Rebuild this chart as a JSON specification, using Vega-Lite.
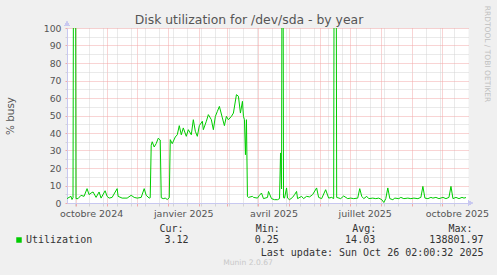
{
  "$schema": "https://vega.github.io/schema/vega-lite/v6.json",
  "width": 401,
  "height": 175,
  "autosize": {"type": "none"},
  "padding": {"left": 67, "top": 28, "right": 29, "bottom": 72},
  "background": "#f0f0f0",
  "config": {"view": {"fill": "white", "stroke": "transparent"}, "font": "DejaVu Sans"},
  "title": {"text": "Munin 2.0.67", "orient": "bottom", "anchor": "middle", "frame": "group", "font": "DejaVu Sans", "fontSize": 7.6, "fontWeight": "normal", "color": "#c8c8c8", "dx": -19.5, "dy": -2},
  "data": {
    "format": {"parse": {"date": "date:'%Y-%m-%d'"}},
    "values": [
      {"date": "2024-09-22", "value": 2.5},
      {"date": "2024-09-24", "value": 3.2},
      {"date": "2024-09-26", "value": 3.8},
      {"date": "2024-09-27", "value": 2.0},
      {"date": "2024-09-28", "value": 3.0},
      {"date": "2024-09-29", "value": 300},
      {"date": "2024-09-30", "value": 300},
      {"date": "2024-10-01", "value": 2.5},
      {"date": "2024-10-03", "value": 2.5},
      {"date": "2024-10-06", "value": 4.4},
      {"date": "2024-10-09", "value": 3.8},
      {"date": "2024-10-12", "value": 8.2},
      {"date": "2024-10-14", "value": 4.8},
      {"date": "2024-10-16", "value": 5.7},
      {"date": "2024-10-18", "value": 6.3},
      {"date": "2024-10-21", "value": 3.2},
      {"date": "2024-10-24", "value": 6.3},
      {"date": "2024-10-26", "value": 2.8},
      {"date": "2024-10-30", "value": 7.0},
      {"date": "2024-11-01", "value": 3.8},
      {"date": "2024-11-03", "value": 2.8},
      {"date": "2024-11-06", "value": 3.2},
      {"date": "2024-11-11", "value": 8.2},
      {"date": "2024-11-12", "value": 3.8},
      {"date": "2024-11-16", "value": 2.8},
      {"date": "2024-11-21", "value": 2.8},
      {"date": "2024-11-25", "value": 4.4},
      {"date": "2024-11-28", "value": 3.2},
      {"date": "2024-12-01", "value": 2.8},
      {"date": "2024-12-05", "value": 3.2},
      {"date": "2024-12-08", "value": 8.2},
      {"date": "2024-12-10", "value": 4.4},
      {"date": "2024-12-13", "value": 2.8},
      {"date": "2024-12-14", "value": 3.0},
      {"date": "2024-12-15", "value": 33},
      {"date": "2024-12-16", "value": 35},
      {"date": "2024-12-18", "value": 32},
      {"date": "2024-12-20", "value": 34},
      {"date": "2024-12-22", "value": 37},
      {"date": "2024-12-24", "value": 36},
      {"date": "2024-12-25", "value": 3.0},
      {"date": "2024-12-27", "value": 2.5},
      {"date": "2024-12-29", "value": 2.8},
      {"date": "2024-12-31", "value": 2.0},
      {"date": "2025-01-02", "value": 3.0},
      {"date": "2025-01-03", "value": 36.2},
      {"date": "2025-01-05", "value": 33.9},
      {"date": "2025-01-08", "value": 37.7},
      {"date": "2025-01-10", "value": 39.0},
      {"date": "2025-01-12", "value": 44.2},
      {"date": "2025-01-14", "value": 39.0},
      {"date": "2025-01-16", "value": 42.9},
      {"date": "2025-01-19", "value": 38.1},
      {"date": "2025-01-21", "value": 41.9},
      {"date": "2025-01-24", "value": 39.0},
      {"date": "2025-01-26", "value": 47.6},
      {"date": "2025-01-28", "value": 41.0},
      {"date": "2025-01-30", "value": 38.1},
      {"date": "2025-02-01", "value": 44.2},
      {"date": "2025-02-04", "value": 46.7},
      {"date": "2025-02-05", "value": 41.9},
      {"date": "2025-02-08", "value": 46.7},
      {"date": "2025-02-10", "value": 50.5},
      {"date": "2025-02-13", "value": 47.6},
      {"date": "2025-02-15", "value": 41.9},
      {"date": "2025-02-17", "value": 49.5},
      {"date": "2025-02-19", "value": 52.4},
      {"date": "2025-02-21", "value": 55.2},
      {"date": "2025-02-24", "value": 48.6},
      {"date": "2025-02-26", "value": 44.2},
      {"date": "2025-02-28", "value": 49.5},
      {"date": "2025-03-02", "value": 47.6},
      {"date": "2025-03-05", "value": 49.5},
      {"date": "2025-03-07", "value": 51.4},
      {"date": "2025-03-10", "value": 61.9},
      {"date": "2025-03-12", "value": 61.0},
      {"date": "2025-03-14", "value": 51.4},
      {"date": "2025-03-16", "value": 58.1},
      {"date": "2025-03-17", "value": 49.5},
      {"date": "2025-03-18", "value": 47.6},
      {"date": "2025-03-19", "value": 27.6},
      {"date": "2025-03-20", "value": 47.6},
      {"date": "2025-03-21", "value": 3.7},
      {"date": "2025-03-22", "value": 3.2},
      {"date": "2025-03-26", "value": 3.8},
      {"date": "2025-03-27", "value": 3.2},
      {"date": "2025-03-31", "value": 2.8},
      {"date": "2025-04-02", "value": 4.4},
      {"date": "2025-04-04", "value": 5.7},
      {"date": "2025-04-06", "value": 2.5},
      {"date": "2025-04-10", "value": 3.2},
      {"date": "2025-04-11", "value": 6.6},
      {"date": "2025-04-14", "value": 2.5},
      {"date": "2025-04-17", "value": 1.9},
      {"date": "2025-04-20", "value": 1.9},
      {"date": "2025-04-22", "value": 2.5},
      {"date": "2025-04-23", "value": 28.6},
      {"date": "2025-04-24", "value": 8.0},
      {"date": "2025-04-25", "value": 300},
      {"date": "2025-04-26", "value": 3.0},
      {"date": "2025-04-27", "value": 2.8},
      {"date": "2025-04-29", "value": 8.6},
      {"date": "2025-04-30", "value": 2.8},
      {"date": "2025-05-02", "value": 1.9},
      {"date": "2025-05-05", "value": 3.2},
      {"date": "2025-05-07", "value": 4.8},
      {"date": "2025-05-09", "value": 6.6},
      {"date": "2025-05-10", "value": 2.5},
      {"date": "2025-05-14", "value": 3.8},
      {"date": "2025-05-16", "value": 2.5},
      {"date": "2025-05-19", "value": 3.8},
      {"date": "2025-05-22", "value": 3.5},
      {"date": "2025-05-25", "value": 4.8},
      {"date": "2025-05-29", "value": 8.6},
      {"date": "2025-05-31", "value": 3.2},
      {"date": "2025-06-03", "value": 2.5},
      {"date": "2025-06-07", "value": 7.6},
      {"date": "2025-06-10", "value": 2.8},
      {"date": "2025-06-13", "value": 3.2},
      {"date": "2025-06-15", "value": 2.5},
      {"date": "2025-06-16", "value": 300},
      {"date": "2025-06-17", "value": 300},
      {"date": "2025-06-18", "value": 3.2},
      {"date": "2025-06-22", "value": 2.5},
      {"date": "2025-06-25", "value": 4.0},
      {"date": "2025-06-29", "value": 2.5},
      {"date": "2025-07-02", "value": 2.8},
      {"date": "2025-07-05", "value": 2.5},
      {"date": "2025-07-09", "value": 2.8},
      {"date": "2025-07-11", "value": 8.2},
      {"date": "2025-07-13", "value": 3.8},
      {"date": "2025-07-15", "value": 2.5},
      {"date": "2025-07-18", "value": 3.8},
      {"date": "2025-07-20", "value": 2.5},
      {"date": "2025-07-24", "value": 2.8},
      {"date": "2025-07-27", "value": 2.5},
      {"date": "2025-07-30", "value": 2.8},
      {"date": "2025-08-02", "value": 1.9},
      {"date": "2025-08-04", "value": 0.3},
      {"date": "2025-08-06", "value": 2.5},
      {"date": "2025-08-08", "value": 8.6},
      {"date": "2025-08-10", "value": 2.5},
      {"date": "2025-08-13", "value": 1.9},
      {"date": "2025-08-15", "value": 2.8},
      {"date": "2025-08-19", "value": 2.5},
      {"date": "2025-08-21", "value": 3.2},
      {"date": "2025-08-24", "value": 2.5},
      {"date": "2025-08-28", "value": 2.8},
      {"date": "2025-08-31", "value": 2.5},
      {"date": "2025-09-03", "value": 2.8},
      {"date": "2025-09-07", "value": 2.5},
      {"date": "2025-09-10", "value": 3.2},
      {"date": "2025-09-12", "value": 9.5},
      {"date": "2025-09-14", "value": 2.8},
      {"date": "2025-09-17", "value": 2.5},
      {"date": "2025-09-20", "value": 3.2},
      {"date": "2025-09-22", "value": 2.8},
      {"date": "2025-09-25", "value": 3.2},
      {"date": "2025-09-28", "value": 2.5},
      {"date": "2025-10-02", "value": 3.2},
      {"date": "2025-10-05", "value": 2.5},
      {"date": "2025-10-08", "value": 3.2},
      {"date": "2025-10-10", "value": 9.5},
      {"date": "2025-10-12", "value": 2.5},
      {"date": "2025-10-15", "value": 3.2},
      {"date": "2025-10-18", "value": 2.5},
      {"date": "2025-10-21", "value": 3.2},
      {"date": "2025-10-23", "value": 2.8},
      {"date": "2025-10-25", "value": 3.12}
    ]
  },
  "layer": [
    {
      "mark": {"type": "line", "strokeWidth": 1, "strokeJoin": "bevel", "clip": true, "interpolate": "linear"},
      "encoding": {
        "x": {
          "field": "date", "type": "temporal",
          "scale": {"domain": [{"year": 2024, "month": 9, "date": 22}, {"year": 2025, "month": 10, "date": 27}]},
          "axis": {
            "orient": "bottom",
            "values": [
              {"year": 2024, "month": 9, "date": 30}, {"year": 2024, "month": 10, "date": 1}, {"year": 2024, "month": 10, "date": 14}, {"year": 2024, "month": 10, "date": 16}, {"year": 2024, "month": 10, "date": 28},
              {"year": 2024, "month": 11, "date": 1}, {"year": 2024, "month": 11, "date": 11}, {"year": 2024, "month": 11, "date": 25},
              {"year": 2024, "month": 12, "date": 1}, {"year": 2024, "month": 12, "date": 9}, {"year": 2024, "month": 12, "date": 23},
              {"year": 2025, "month": 1, "date": 1}, {"year": 2025, "month": 1, "date": 6}, {"year": 2025, "month": 1, "date": 16}, {"year": 2025, "month": 1, "date": 20},
              {"year": 2025, "month": 2, "date": 1}, {"year": 2025, "month": 2, "date": 3}, {"year": 2025, "month": 2, "date": 17},
              {"year": 2025, "month": 3, "date": 1}, {"year": 2025, "month": 3, "date": 3}, {"year": 2025, "month": 3, "date": 17}, {"year": 2025, "month": 3, "date": 31},
              {"year": 2025, "month": 4, "date": 1}, {"year": 2025, "month": 4, "date": 14}, {"year": 2025, "month": 4, "date": 16}, {"year": 2025, "month": 4, "date": 28},
              {"year": 2025, "month": 5, "date": 1}, {"year": 2025, "month": 5, "date": 12}, {"year": 2025, "month": 5, "date": 26},
              {"year": 2025, "month": 6, "date": 1}, {"year": 2025, "month": 6, "date": 9}, {"year": 2025, "month": 6, "date": 23},
              {"year": 2025, "month": 7, "date": 1}, {"year": 2025, "month": 7, "date": 7}, {"year": 2025, "month": 7, "date": 16}, {"year": 2025, "month": 7, "date": 21},
              {"year": 2025, "month": 8, "date": 1}, {"year": 2025, "month": 8, "date": 4}, {"year": 2025, "month": 8, "date": 18},
              {"year": 2025, "month": 9, "date": 1}, {"year": 2025, "month": 9, "date": 15}, {"year": 2025, "month": 9, "date": 29},
              {"year": 2025, "month": 10, "date": 1}, {"year": 2025, "month": 10, "date": 13}, {"year": 2025, "month": 10, "date": 16}
            ],
            "labelExpr": "date(datum.value) == 16 && month(datum.value) % 3 == 0 ? ['janvier','février','mars','avril','mai','juin','juillet','août','septembre','octobre','novembre','décembre'][month(datum.value)] + ' ' + year(datum.value) : ''",
            "labelFont": "DejaVu Sans", "labelFontSize": 9.5, "labelColor": "#555555", "labelPadding": 2.5,
            "labelOverlap": false, "labelFlush": false, "labelBound": false,
            "tickSize": 3,
            "tickColor": {"condition": {"test": "date(datum.value) == 1", "value": "#f2a8a8"}, "value": "#d4d4d4"},
            "tickOpacity": {"condition": {"test": "date(datum.value) == 16", "value": 0}, "value": 1},
            "grid": true,
            "gridColor": {"condition": {"test": "date(datum.value) == 1", "value": "#f2a8a8"}, "value": "#d4d4d4"},
            "gridOpacity": {"condition": {"test": "date(datum.value) == 16", "value": 0}, "value": 1},
            "gridDash": [1, 1],
            "domainColor": "#c8c8f0",
            "title": "Last update: Sun Oct 26 02:00:32 2025",
            "titleFont": "DejaVu Sans Mono", "titleFontSize": 10, "titleFontWeight": "normal", "titleColor": "#333333",
            "titleAlign": "right", "titleBaseline": "middle", "titleAnchor": "end", "titleX": 416, "titleY": 49
          }
        },
        "y": {
          "field": "value", "type": "quantitative",
          "scale": {"domain": [0, 100], "nice": false},
          "axis": {
            "orient": "left",
            "values": [0, 5, 10, 15, 20, 25, 30, 35, 40, 45, 50, 55, 60, 65, 70, 75, 80, 85, 90, 95, 100],
            "labelExpr": "datum.value % 10 == 0 ? datum.label : ''",
            "labelFont": "DejaVu Sans", "labelFontSize": 9.3, "labelColor": "#555555", "labelPadding": 4,
            "labelOverlap": false,
            "tickSize": 2,
            "tickColor": {"condition": {"test": "datum.value % 10 == 0", "value": "#f2a8a8"}, "value": "#d4d4d4"},
            "grid": true,
            "gridColor": {"condition": {"test": "datum.value % 10 == 0", "value": "#f2a8a8"}, "value": "#d4d4d4"},
            "gridDash": [1, 1],
            "domainColor": "#c8c8f0",
            "title": "% busy",
            "titleFont": "DejaVu Sans", "titleFontSize": 10.4, "titleFontWeight": "normal", "titleColor": "#555555",
            "titleAngle": -90, "titleAlign": "center", "titleBaseline": "middle", "titleX": -56.5, "titleY": 87.5
          }
        },
        "color": {
          "datum": "Utilization",
          "scale": {"range": ["#00cc00"]},
          "legend": {
            "orient": "none", "legendX": -53, "legendY": 196, "padding": 0,
            "direction": "vertical",
            "title": "\u2800\u00a0\u00a0\u00a0\u00a0\u00a0\u00a0\u00a0\u00a0\u00a0\u00a0\u00a0\u00a0\u00a0\u00a0\u00a0\u00a0\u00a0\u00a0\u00a0\u00a0\u00a0\u00a0\u00a0Cur:\u00a0\u00a0\u00a0\u00a0\u00a0\u00a0\u00a0\u00a0\u00a0\u00a0\u00a0\u00a0Min:\u00a0\u00a0\u00a0\u00a0\u00a0\u00a0\u00a0\u00a0\u00a0\u00a0\u00a0\u00a0Avg:\u00a0\u00a0\u00a0\u00a0\u00a0\u00a0\u00a0\u00a0\u00a0\u00a0\u00a0\u00a0Max:",
            "titleFont": "DejaVu Sans Mono", "titleFontSize": 10, "titleFontWeight": "normal", "titleColor": "#333333",
            "titleLimit": 600, "titlePadding": 1, "titleAnchor": "start",
            "labelExpr": "'Utilization\u00a0\u00a0\u00a0\u00a0\u00a0\u00a0\u00a0\u00a0\u00a0\u00a0\u00a0\u00a03.12\u00a0\u00a0\u00a0\u00a0\u00a0\u00a0\u00a0\u00a0\u00a0\u00a0\u00a00.25\u00a0\u00a0\u00a0\u00a0\u00a0\u00a0\u00a0\u00a0\u00a0\u00a0\u00a014.03\u00a0\u00a0\u00a0\u00a0\u00a0\u00a0\u00a0\u00a0\u00a0138801.97'",
            "labelFont": "DejaVu Sans Mono", "labelFontSize": 10, "labelColor": "#333333", "labelLimit": 600, "labelOffset": 2,
            "symbolType": "square", "symbolSize": 30,
            "symbolFillColor": "#00cc00", "symbolStrokeWidth": 0,
            "encode": {"symbols": {"update": {"fill": {"value": "#00cc00"}, "fillOpacity": {"value": 1}, "strokeWidth": {"value": 0}}}}
          }
        }
      }
    },
    {
      "mark": {"type": "line", "strokeOpacity": 0, "clip": true},
      "encoding": {
        "x": {
          "field": "date", "type": "temporal",
          "axis": {
            "orient": "top", "domain": false, "ticks": false, "labels": false, "grid": false,
            "title": "Disk utilization for /dev/sda - by year",
            "titleFont": "DejaVu Sans", "titleFontSize": 12.4, "titleFontWeight": "normal", "titleColor": "#555555",
            "titleAlign": "center", "titleBaseline": "alphabetic", "titleX": 181.5, "titleY": -4.5
          }
        },
        "y": {
          "field": "value", "type": "quantitative",
          "axis": {
            "orient": "right", "domain": false, "ticks": false, "labels": false, "grid": false,
            "title": "RRDTOOL / TOBI OETIKER",
            "titleFont": "DejaVu Sans", "titleFontSize": 7.5, "titleFontWeight": "normal", "titleColor": "#c0c0c0",
            "titleAngle": 90, "titleAlign": "center", "titleBaseline": "middle", "titleX": 18.7, "titleY": 25.5
          }
        }
      }
    },
    {
      "mark": {"type": "point", "shape": "triangle-right", "size": 22, "filled": true, "color": "#c8c8f0", "opacity": 1, "clip": false},
      "encoding": {
        "x": {"datum": {"year": 2025, "month": 10, "date": 29, "hours": 12}, "type": "temporal", "axis": null},
        "y": {"datum": 0, "type": "quantitative", "axis": null}
      }
    },
    {
      "mark": {"type": "point", "shape": "triangle-up", "size": 22, "filled": true, "color": "#c8c8f0", "opacity": 1, "clip": false},
      "encoding": {
        "x": {"datum": {"year": 2024, "month": 9, "date": 22}, "type": "temporal", "axis": null},
        "y": {"datum": 102.5, "type": "quantitative", "axis": null}
      }
    }
  ],
  "resolve": {"axis": {"x": "independent", "y": "independent"}}
}
